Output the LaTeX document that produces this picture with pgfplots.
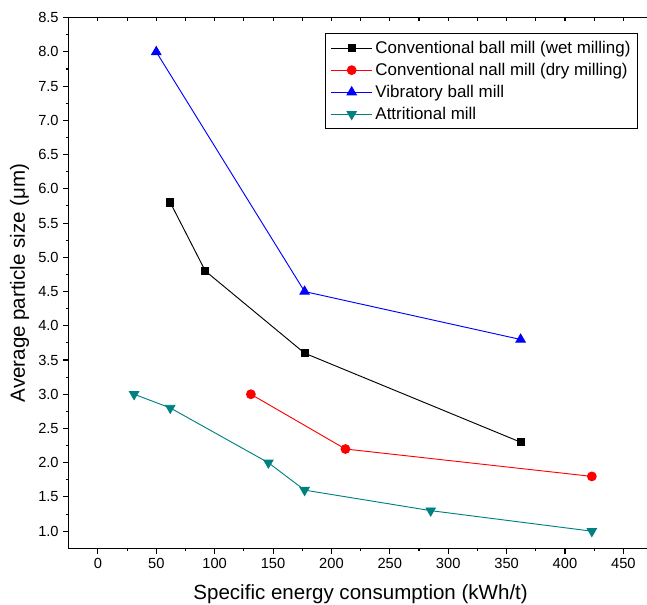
\documentclass[border=0pt]{standalone}
\usepackage{fontspec}
\setmainfont{Liberation Sans}
\usepackage{pgfplots}
\pgfplotsset{compat=1.18}

\definecolor{attrit}{RGB}{0,128,128}

\begin{document}
\begin{tikzpicture}
\pgfplotsset{
  common/.style={
    width=437.9pt, height=397.95pt, scale only axis,
    xmin=-25, xmax=475, ymin=0.75, ymax=8.5,
    xtick={0,50,...,450}, minor x tick num=1,
  },
}
\begin{axis}[
  common,
  ytick={1,1.5,...,8.5}, minor y tick num=1,
  xtick pos=bottom, ytick pos=left, tick align=outside,
  major tick length=4pt, minor tick length=2.2pt,
  tick style={black, line width=0.8pt},
  axis line style={line width=1pt},
  /pgf/number format/assume math mode=true,
  yticklabel style={/pgf/number format/.cd, fixed, fixed zerofill, precision=1},
  ticklabel style={font=\fontsize{11}{13}\selectfont},
  xlabel={Specific energy consumption (kWh/t)},
  ylabel={Average particle size (μm)},
  label style={font=\fontsize{15.4}{18}\selectfont},
  xlabel style={yshift=-5pt},
  legend style={at={(0.9755,0.9706)}, anchor=north east, draw=black, line width=0.6pt,
    font=\fontsize{12.7}{15}\selectfont, cells={anchor=west}, inner sep=3.5pt, row sep=1.8pt},
  legend image code/.code={\draw[mark repeat=2,mark phase=2] plot coordinates {(0pt,0pt) (15.5pt,0pt) (31pt,0pt)};},
  every axis plot/.append style={line width=0.7pt},
]
\addplot[black, mark=square*, mark size=2.7pt, mark options={solid}] coordinates {
  (62,5.8) (92,4.8) (177,3.6) (362,2.3)
};
\addlegendentry{Conventional ball mill (wet milling)}
\addplot[red, mark=*, mark size=3.3pt] coordinates {
  (131,3.0) (212,2.2) (423,1.8)
};
\addlegendentry{Conventional nall mill (dry milling)}
\addplot[blue, mark=triangle*, mark size=4pt] coordinates {
  (50,8.0) (177,4.5) (362,3.8)
};
\addlegendentry{Vibratory ball mill}
\addplot[attrit, mark=triangle*, mark size=4pt, mark options={rotate=180}] coordinates {
  (31,3.0) (62,2.8) (146,2.0) (177,1.6) (285,1.3) (423,1.0)
};
\addlegendentry{Attritional mill}
\end{axis}
% short inward ticks along the top edge
\begin{axis}[
  common,
  axis x line*=top, axis y line=none,
  axis line style={draw=none},
  xticklabels={}, tick align=inside,
  major tick length=2.2pt, minor tick length=2.2pt,
  tick style={black, line width=0.8pt},
]
\end{axis}
\pgfresetboundingbox
\path[use as bounding box] (-51.525pt,-42.525pt) rectangle (433.725pt,411.225pt);
\end{tikzpicture}
\end{document}
